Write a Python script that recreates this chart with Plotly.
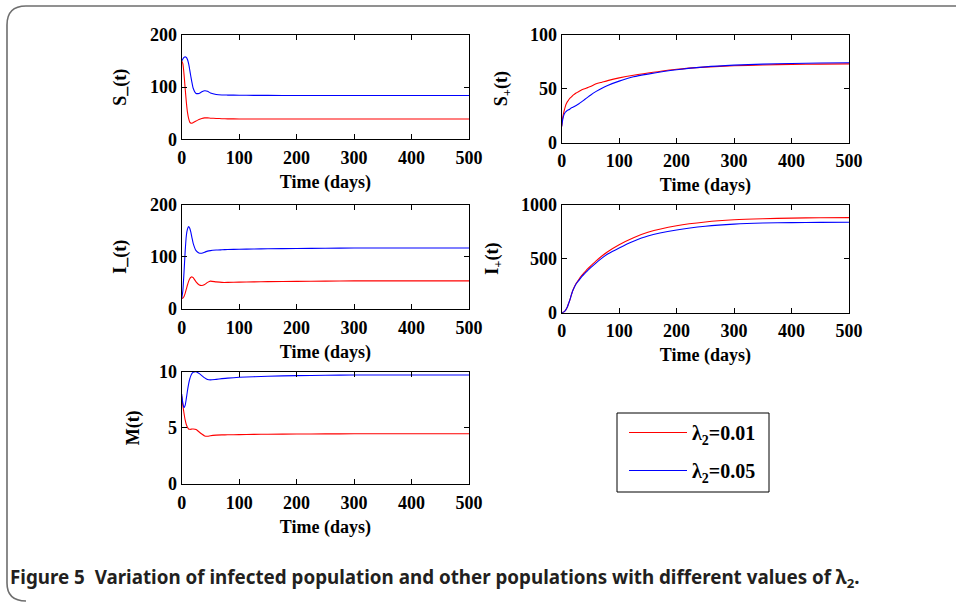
import plotly.graph_objects as go

W, H = 956, 602

# ---------------- data ----------------
t = [0, 2, 4, 6, 8, 10, 12, 14, 16, 18, 20, 25, 30, 35, 40, 45, 50, 60, 70, 80,
     100, 125, 150, 200, 250, 300, 350, 400, 450, 500]

s_minus_001 = [150, 145, 125, 98, 72, 52, 40, 33, 31, 31, 32, 35, 38, 40, 41, 41, 40.5, 40, 39.5, 39.2,
               39, 39, 39, 39, 39, 39, 39, 39, 39, 39]
s_minus_005 = [150, 154, 157, 158, 157, 153, 145, 133, 120, 108, 98, 88, 88, 91, 93, 92, 89, 86, 85, 84.8,
               84.5, 84.3, 84.2, 84, 84, 84, 84, 84, 84, 84]

s_plus_001 = [15, 24, 29, 33, 36, 38, 39.5, 41, 42, 43, 44, 46, 47.5, 49, 50, 51, 52, 54.5, 56, 57.5,
              60, 62.5, 64.5, 68, 70, 71.2, 72, 72.5, 72.8, 73]
s_plus_005 = [15, 22, 26, 28, 29, 30, 30.5, 31, 32, 32.5, 33, 34.5, 36, 38, 40, 42, 44, 47.5, 50.5, 53,
              57, 61, 63.5, 67.5, 70.2, 71.8, 72.8, 73.4, 73.8, 74]

i_minus_001 = [20, 21, 24, 30, 38, 46, 53, 58, 61, 61.5, 60, 52, 46.5, 45, 47, 51, 53.5, 52, 51, 51,
               51.5, 52, 52.5, 53, 53.5, 54, 54, 54, 54, 54]
i_minus_005 = [20, 35, 70, 110, 140, 153, 158, 155, 147, 136, 126, 112, 107.5, 107, 109, 111, 112, 113, 113.5, 114,
               114.5, 115, 115.5, 116, 116.5, 117, 117, 117, 117, 117]

i_plus_001 = [0, 3, 8, 18, 35, 55, 85, 115, 150, 185, 215, 270, 310, 345, 375, 405, 430, 480, 525, 565,
              630, 695, 745, 805, 840, 860, 870, 876, 879, 880]
i_plus_005 = [0, 3, 8, 18, 35, 55, 85, 115, 150, 185, 212, 265, 300, 335, 362, 390, 415, 462, 505, 543,
              600, 662, 710, 765, 800, 820, 830, 834, 836, 837]

m_001 = [7.8, 7.0, 6.3, 5.7, 5.3, 5.05, 4.9, 4.87, 4.87, 4.9, 4.9, 4.85, 4.65, 4.45, 4.28, 4.25, 4.3, 4.35, 4.37, 4.38,
         4.4, 4.42, 4.43, 4.45, 4.46, 4.47, 4.47, 4.47, 4.48, 4.48]
m_005 = [8.0, 7.2, 6.8, 7.0, 7.6, 8.3, 8.9, 9.35, 9.65, 9.85, 9.95, 10.0, 9.85, 9.65, 9.45, 9.3, 9.27, 9.32, 9.38, 9.43,
         9.5, 9.55, 9.6, 9.65, 9.68, 9.7, 9.7, 9.7, 9.7, 9.7]

series_names = ["<b>λ<sub>2</sub>=0.01</b>", "<b>λ<sub>2</sub>=0.05</b>"]
series_colors = ["#ff0000", "#0000ff"]

panels = [
    # (y label, y range, y ticks, red data, blue data)
    ("<b>S_(t)</b>", [0, 200], [0, 100, 200], s_minus_001, s_minus_005),
    ("<b>S<sub>+</sub>(t)</b>", [0, 100], [0, 50, 100], s_plus_001, s_plus_005),
    ("<b>I_(t)</b>", [0, 200], [0, 100, 200], i_minus_001, i_minus_005),
    ("<b>I<sub>+</sub>(t)</b>", [0, 1000], [0, 500, 1000], i_plus_001, i_plus_005),
    ("<b>M(t)</b>", [0, 10], [0, 5, 10], m_001, m_005),
]
x_ticks = [0, 100, 200, 300, 400, 500]

# pixel boxes of the five plot areas: (left, right, top, bottom)
boxes = [
    (181.7, 469, 35, 139.3),
    (561.7, 849, 34.7, 142.7),
    (181.7, 469, 204.7, 309),
    (561.7, 849, 204.7, 312.7),
    (181.7, 469, 371.7, 484),
]
ylabel_standoff = [18, 17, 18, 17, 14]

serif = "Liberation Serif"
tick_font = dict(family=serif, size=18, color="black", weight="bold")

fig = go.Figure()
layout = {}
for k, ((ylab, yr, yt, red, blue), (l, r, tp, bt)) in enumerate(zip(panels, boxes)):
    n = "" if k == 0 else str(k + 1)
    for j, vals in enumerate([red, blue]):
        fig.add_trace(go.Scatter(
            x=t, y=vals, mode="lines", xaxis="x" + n, yaxis="y" + n,
            line=dict(color=series_colors[j], width=1.1, shape="spline", smoothing=0.6),
            name=series_names[j], legendgroup=str(j), showlegend=(k == 0),
        ))
    common = dict(showline=True, linecolor="black", linewidth=1, mirror="ticks",
                  ticks="inside", ticklen=5, tickcolor="black", tickwidth=1,
                  showgrid=False, zeroline=False, tickfont=tick_font, automargin=False)
    layout["xaxis" + n] = dict(
        domain=[l / W, r / W], range=[0, 500], tickvals=x_ticks, anchor="y" + n,
        ticklabelstandoff=2,
        title=dict(text="<b>Time (days)</b>", font=dict(family=serif, size=18, color="black"), standoff=8),
        **common)
    layout["yaxis" + n] = dict(
        domain=[1 - bt / H, 1 - tp / H], range=yr, tickvals=yt, anchor="x" + n,
        title=dict(text=ylab, font=dict(family=serif, size=18, color="black"),
                   standoff=ylabel_standoff[k]),
        **common)

fig.update_layout(**layout)

# rounded frame around the figure
def px(x, y):
    return f"{x / W:.5f},{1 - y / H:.5f}"

frame = (f"M {px(956, 6)} L {px(26, 6)} Q {px(7, 6)} {px(7, 25)} "
         f"L {px(7, 583)} Q {px(7, 601)} {px(26, 601)}")
fig.add_shape(type="path", path=frame, xref="paper", yref="paper",
              line=dict(color="#6e6e6e", width=1.6))

# legend box
fig.add_shape(type="rect", xref="paper", yref="paper",
              x0=617 / W, x1=769 / W, y0=1 - 492 / H, y1=1 - 413 / H,
              line=dict(color="black", width=1), fillcolor="rgba(0,0,0,0)")

fig.add_annotation(
    text="<b>Figure 5\u00a0 Variation of infected population and other populations with different values of λ<sub>2</sub>.</b>",
    xref="paper", yref="paper", x=8 / W, y=1 - 578 / H, xanchor="left", yanchor="middle",
    showarrow=False, font=dict(family="Noto Sans", size=18.8, color="#231f20"))

fig.update_layout(
    width=W, height=H, margin=dict(l=0, r=0, t=0, b=0, autoexpand=False),
    paper_bgcolor="white", plot_bgcolor="white",
    showlegend=True,
    legend=dict(x=624 / W, y=1 - 413 / H, xanchor="left", yanchor="top",
                borderwidth=0, bgcolor="rgba(0,0,0,0)",
                font=dict(family=serif, size=20, color="black"),
                tracegroupgap=9, itemwidth=58),
)

fig.write_html("out.html")
